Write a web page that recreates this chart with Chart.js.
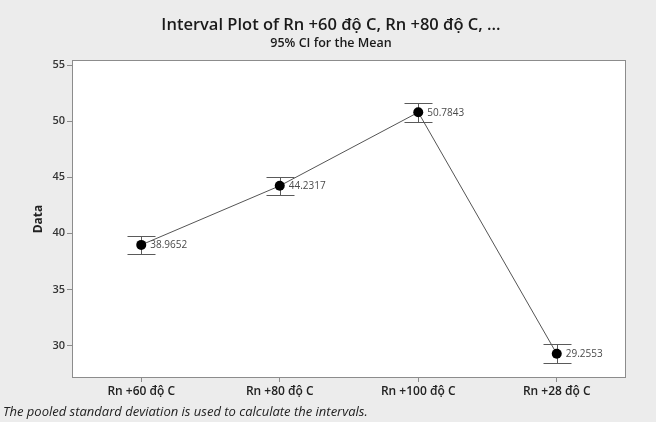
<!DOCTYPE html>
<html>
<head>
<meta charset="utf-8">
<script src="https://cdn.jsdelivr.net/npm/chart.js@4/dist/chart.umd.min.js"></script>
<style>
  html, body { margin: 0; padding: 0; background: #ececec; }
  #wrap { width: 656px; height: 422px; position: relative; }
</style>
</head>
<body>
<div id="wrap"><canvas id="c" width="656" height="422"></canvas></div>
<script>
// Group labels and interval statistics (mean with 95% CI bounds)
const categories = ['Rn +60 độ C', 'Rn +80 độ C', 'Rn +100 độ C', 'Rn +28 độ C'];
const means = [38.9652, 44.2317, 50.7843, 29.2553];
const ciLower = [38.13, 43.40, 49.95, 28.42];
const ciUpper = [39.80, 45.06, 51.62, 30.09];
const yTicks = [30, 35, 40, 45, 50, 55];

const titleText = 'Interval Plot of Rn +60 độ C, Rn +80 độ C, ...';
const subtitleText = '95% CI for the Mean';
const footnoteText = 'The pooled standard deviation is used to calculate the intervals.';

const SANS = '"Open Sans", "DejaVu Sans", sans-serif';

// Page background, white plot panel and frame
const panelPlugin = {
  id: 'panel',
  beforeDraw(chart) {
    const { ctx, chartArea: a } = chart;
    ctx.save();
    ctx.fillStyle = '#ececec';
    ctx.fillRect(0, 0, chart.width, chart.height);
    ctx.fillStyle = '#ffffff';
    ctx.fillRect(a.left, a.top, a.right - a.left, a.bottom - a.top);
    ctx.restore();
  },
  afterDraw(chart) {
    const { ctx, chartArea: a } = chart;
    ctx.save();
    ctx.strokeStyle = '#8c8c8c';
    ctx.lineWidth = 1;
    ctx.strokeRect(Math.round(a.left) + 0.5, Math.round(a.top) + 0.5,
                   Math.round(a.right - a.left) - 1, Math.round(a.bottom - a.top) - 1);
    ctx.restore();
  }
};

// Confidence interval whiskers with end caps, plus mean value labels
const intervalPlugin = {
  id: 'intervals',
  beforeDatasetsDraw(chart) {
    const { ctx, scales: { x, y } } = chart;
    ctx.save();
    ctx.strokeStyle = '#5a5a5a';
    ctx.lineWidth = 1;
    const cap = 14;
    categories.forEach((c, i) => {
      const px = Math.round(x.getPixelForValue(i)) + 0.5;
      const yl = Math.round(y.getPixelForValue(ciLower[i])) + 0.5;
      const yu = Math.round(y.getPixelForValue(ciUpper[i])) + 0.5;
      ctx.beginPath();
      ctx.moveTo(px, yl); ctx.lineTo(px, yu);
      ctx.moveTo(px - cap, yl); ctx.lineTo(px + cap, yl);
      ctx.moveTo(px - cap, yu); ctx.lineTo(px + cap, yu);
      ctx.stroke();
    });
    ctx.restore();
  },
  afterDatasetsDraw(chart) {
    const { ctx, scales: { x, y } } = chart;
    ctx.save();
    ctx.fillStyle = '#4a4a4a';
    ctx.font = '10px ' + SANS;
    ctx.textAlign = 'left';
    ctx.textBaseline = 'middle';
    means.forEach((m, i) => {
      ctx.fillText(String(m), x.getPixelForValue(i) + 9, y.getPixelForValue(m) + 0.5);
    });
    ctx.restore();
  }
};

// Titles above the panel and the note below it
const textPlugin = {
  id: 'texts',
  afterDraw(chart) {
    const { ctx } = chart;
    ctx.save();
    ctx.fillStyle = '#1a1a1a';
    ctx.textAlign = 'center';
    ctx.textBaseline = 'middle';
    ctx.font = '600 16.5px ' + SANS;
    ctx.fillText(titleText, 331, 25);
    ctx.font = '600 12.5px ' + SANS;
    ctx.fillText(subtitleText, 331, 43);
    ctx.textAlign = 'left';
    ctx.fillStyle = '#222222';
    ctx.font = 'italic 13px ' + SANS;
    ctx.fillText(footnoteText, 3, 412);
    ctx.restore();
  }
};

new Chart(document.getElementById('c'), {
  type: 'line',
  data: {
    labels: categories,
    datasets: [{
      data: means,
      borderColor: '#555555',
      borderWidth: 1,
      pointRadius: 5,
      pointBackgroundColor: '#000000',
      pointBorderColor: '#000000',
      pointBorderWidth: 0,
      tension: 0,
      fill: false
    }]
  },
  options: {
    responsive: false,
    animation: false,
    devicePixelRatio: 1,
    layout: { padding: { top: 60, right: 30, left: 0, bottom: 0 } },
    plugins: {
      legend: { display: false },
      tooltip: { enabled: false },
      title: { display: false }
    },
    scales: {
      x: {
        type: 'category',
        offset: true,
        grid: { drawOnChartArea: false, drawTicks: true, tickLength: 4, color: '#8c8c8c', offset: false },
        border: { display: false },
        ticks: {
          color: '#222222',
          font: { family: SANS, size: 12, weight: '600' },
          padding: 2,
          maxRotation: 0
        },
        afterFit(s) { s.height = 44; }
      },
      y: {
        min: 27.1,
        max: 55.45,
        grid: { drawOnChartArea: false, drawTicks: true, tickLength: 5, color: '#8c8c8c' },
        border: { display: false },
        ticks: {
          color: '#333333',
          font: { family: SANS, size: 11, weight: '600' },
          padding: 2
        },
        afterBuildTicks(s) { s.ticks = yTicks.map(v => ({ value: v })); },
        title: {
          display: true,
          text: 'Data',
          color: '#222222',
          font: { family: SANS, size: 12, weight: '700' },
          padding: { top: 31, bottom: 0 }
        },
        afterFit(s) { s.width = 72; }
      }
    }
  },
  plugins: [panelPlugin, intervalPlugin, textPlugin]
});
</script>
</body>
</html>
